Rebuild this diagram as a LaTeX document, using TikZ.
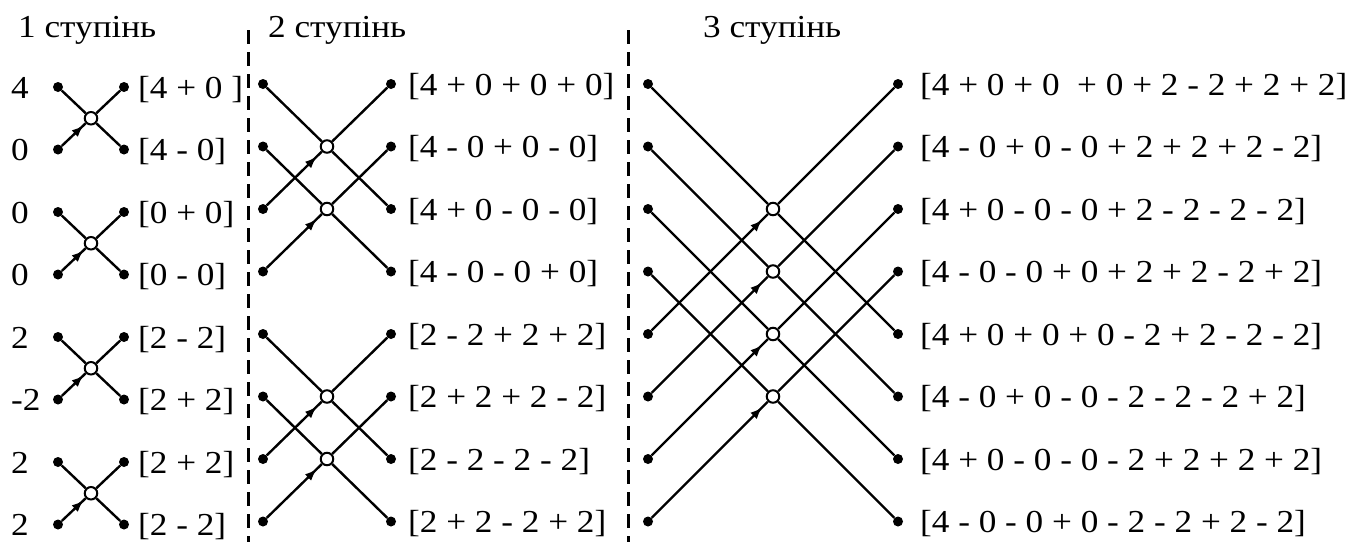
\documentclass[tikz,border=0pt]{standalone}
\usepackage{fontspec}
\setmainfont{Liberation Serif}[FakeStretch=1.1]
\usetikzlibrary{arrows.meta,decorations.markings}
\tikzset{
  dotnode/.style={circle,fill=black,inner sep=0pt,minimum size=10pt},
  junc/.style={circle,draw=black,fill=white,line width=2pt,inner sep=0pt,minimum size=12.5pt},
  wire/.style={line width=2.4pt},
  lbl/.style={anchor=base west,inner sep=0pt,font=\fontsize{32}{38}\selectfont},
  divider/.style={line width=3pt,dash pattern=on 14pt off 8pt},
  arr/.style={postaction={decorate},decoration={markings,mark=at position #1 with {\arrow{Latex[length=12pt,width=9pt]}}}},
}
\begin{document}
\begin{tikzpicture}[x=1pt,y=-1pt]
\useasboundingbox (0,0) rectangle (1368,542);
% titles
\node[lbl] (t1) at (18,37) {1 ступінь};
\node[lbl] (t2) at (268,37) {2 ступінь};
\node[lbl] (t3) at (703,37) {3 ступінь};
% dividers
\coordinate (d1t) at (248,30); \coordinate (d1b) at (248,542);
\coordinate (d2t) at (628,30); \coordinate (d2b) at (628,542);
\draw[divider] (d1t) -- (d1b);
\draw[divider] (d2t) -- (d2b);
% dots
\foreach \i in {1,...,8}{
  \pgfmathsetmacro\yy{84+62.5*(\i-1)}
  \node[dotnode] (s1L\i) at (58,\yy+3) {};
  \node[dotnode] (s1R\i) at (124,\yy+3) {};
  \node[dotnode] (s2L\i) at (263,\yy) {};
  \node[dotnode] (s2R\i) at (391,\yy) {};
  \node[dotnode] (s3L\i) at (648,\yy) {};
  \node[dotnode] (s3R\i) at (898,\yy) {};
}
% stage 1
\foreach \a/\b in {1/2,3/4,5/6,7/8}{
  \pgfmathsetmacro\yc{84+62.5*((\a+\b)/2-1)+3}
  \node[junc] (s1C\a) at (91,\yc) {};
  \draw[wire] (s1L\a) -- (s1C\a) -- (s1R\b);
  \draw[wire,arr=-3pt] (s1L\b) -- (s1C\a);
  \draw[wire] (s1C\a) -- (s1R\a);
}
% stage 2
\foreach \a/\b in {1/3,2/4,5/7,6/8}{
  \pgfmathsetmacro\yc{84+62.5*((\a+\b)/2-1)}
  \node[junc] (s2C\a) at (327,\yc) {};
  \draw[wire] (s2L\a) -- (s2C\a) -- (s2R\b);
  \draw[wire,arr=-7pt] (s2L\b) -- (s2C\a);
  \draw[wire] (s2C\a) -- (s2R\a);
}
% stage 3
\foreach \a/\b in {1/5,2/6,3/7,4/8}{
  \pgfmathsetmacro\yc{84+62.5*((\a+\b)/2-1)}
  \node[junc] (s3C\a) at (773,\yc) {};
  \draw[wire] (s3L\a) -- (s3C\a) -- (s3R\b);
  \draw[wire,arr=-8pt] (s3L\b) -- (s3C\a);
  \draw[wire] (s3C\a) -- (s3R\a);
}
% input values
\foreach \i/\t in {1/4,2/0,3/0,4/0,5/2,6/-2,7/2,8/2}{
  \node[lbl] (in\i) at (11,{84+62.5*(\i-1)+3+11}) {\t};
}
% stage 1 outputs
\foreach \i/\t in {1/{[4 + 0 ]},2/{[4 - 0]},3/{[0 + 0]},4/{[0 - 0]},5/{[2 - 2]},6/{[2 + 2]},7/{[2 + 2]},8/{[2 - 2]}}{
  \node[lbl] (o1\i) at (138,{84+62.5*(\i-1)+3+11}) {\t};
}
% stage 2 outputs
\foreach \i/\t in {1/{[4 + 0 + 0 + 0]},2/{[4 - 0 + 0 - 0]},3/{[4 + 0 - 0 - 0]},4/{[4 - 0 - 0 + 0]},5/{[2 - 2 + 2 + 2]},6/{[2 + 2 + 2 - 2]},7/{[2 - 2 - 2 - 2]},8/{[2 + 2 - 2 + 2]}}{
  \node[lbl] (o2\i) at (408,{84+62.5*(\i-1)+11}) {\t};
}
% stage 3 outputs
\foreach \i/\t in {1/{[4 + 0 + 0 \ + 0 + 2 - 2 + 2 + 2]},2/{[4 - 0 + 0 - 0 + 2 + 2 + 2 - 2]},3/{[4 + 0 - 0 - 0 + 2 - 2 - 2 - 2]},4/{[4 - 0 - 0 + 0 + 2 + 2 - 2 + 2]},5/{[4 + 0 + 0 + 0 - 2 + 2 - 2 - 2]},6/{[4 - 0 + 0 - 0 - 2 - 2 - 2 + 2]},7/{[4 + 0 - 0 - 0 - 2 + 2 + 2 + 2]},8/{[4 - 0 - 0 + 0 - 2 - 2 + 2 - 2]}}{
  \node[lbl] (o3\i) at (920,{84+62.5*(\i-1)+11}) {\t};
}
\end{tikzpicture}
\end{document}
